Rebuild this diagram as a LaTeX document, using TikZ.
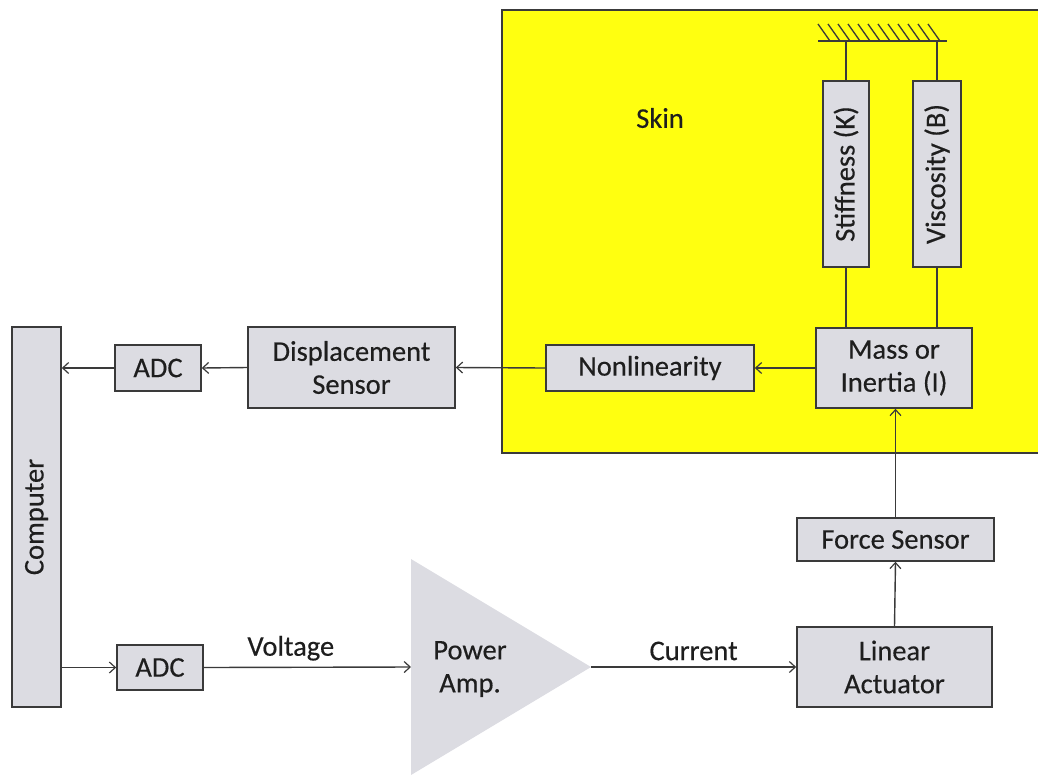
\documentclass[tikz,border=0pt]{standalone}
\usepackage{fontspec}
\setmainfont{Carlito}[FakeBold=0.35]
\usetikzlibrary{arrows.meta}
\definecolor{boxfill}{HTML}{DCDCE2}
\definecolor{boxline}{HTML}{3A3A3A}
\definecolor{skinyellow}{HTML}{FFFF10}
\definecolor{txt}{HTML}{1E1E1E}
\tikzset{
  blk/.style={draw=boxline, fill=boxfill, line width=1.6pt, inner sep=0pt, align=center,
              font=\fontsize{28.5}{33}\selectfont, text=txt},
  conn/.style={draw=boxline, line width=1.4pt},
  arr/.style={conn, -{Straight Barb[length=6pt,width=11pt,line width=1.2pt]}},
  lbl/.style={font=\fontsize{28.5}{33}\selectfont, text=txt, inner sep=0pt}
}
\begin{document}
\begin{tikzpicture}[x=1pt,y=-1pt]
\useasboundingbox (0,0) rectangle (1038,774);
% skin region
\fill[skinyellow] (502,10) rectangle (1040,453);
\draw[boxline, line width=1.6pt] (1040,10) -- (502,10) -- (502,453) -- (1040,453);
\node[lbl] (skin) at (660,118) {Skin};
% ground
\coordinate (g1) at (818,41);
\coordinate (g2) at (947,41);
\draw[conn] (g1) -- (g2);
\foreach \i in {0,...,11}{
  \draw[boxline, line width=1.3pt] (818+10*\i,24) -- (830+10*\i,41);
}
% nodes
\node[blk, minimum width=49pt, minimum height=380pt] (comp) at (36.5,517) {\rotatebox{90}{Computer}};
\node[blk, minimum width=86pt, minimum height=46pt] (adc1) at (158,368) {ADC};
\node[blk, minimum width=207pt, minimum height=81pt] (disp) at (351.5,367.5) {Displacement\\Sensor};
\node[blk, minimum width=208pt, minimum height=46pt] (nonlin) at (650,368) {Nonlinearity};
\node[blk, minimum width=156pt, minimum height=80pt] (mass) at (894,368) {Mass or\\Inertia (I)};
\node[blk, minimum width=46pt, minimum height=186pt] (stiff) at (846,174) {\rotatebox{90}{Stiffness (K)}};
\node[blk, minimum width=48pt, minimum height=186pt] (visc) at (937,174) {\rotatebox{90}{Viscosity (B)}};
\node[blk, minimum width=197pt, minimum height=43pt] (force) at (895.5,539.5) {Force Sensor};
\node[blk, minimum width=195pt, minimum height=80pt] (lin) at (894.5,667) {Linear\\Actuator};
\node[blk, minimum width=86pt, minimum height=45pt] (adc2) at (160,667.5) {ADC};
% amplifier
\fill[boxfill] (411,559) -- (591,667) -- (411,775) -- cycle;
\coordinate (ampin) at (411,667);
\coordinate (ampout) at (591,667);
\node[lbl, align=center] (amp) at (470,669) {Power\\Amp.};
% connectors
\draw[conn] (stiff.north) -- (stiff.north |- g1);
\draw[conn] (visc.north) -- (visc.north |- g1);
\draw[conn] (stiff.south) -- (stiff.south |- mass.north);
\draw[conn] (visc.south) -- (visc.south |- mass.north);
\draw[arr] (mass.west) -- (nonlin.east);
\draw[arr] (nonlin.west) -- (disp.east);
\draw[arr] (disp.west) -- (adc1.east);
\draw[arr] (adc1.west) -- (adc1.west -| comp.east);
\draw[arr] (adc2.west -| comp.east) -- (adc2.west);
\draw[arr] (adc2.east) -- (ampin) node[lbl, pos=0.42, above=6pt] (volt) {Voltage};
\draw[arr] (ampout) -- (lin.west) node[lbl, midway, above=6pt] (curr) {Current};
\draw[arr] (lin.north) -- (force.south);
\draw[arr] (force.north) -- (force.north |- mass.south);
\end{tikzpicture}
\end{document}
